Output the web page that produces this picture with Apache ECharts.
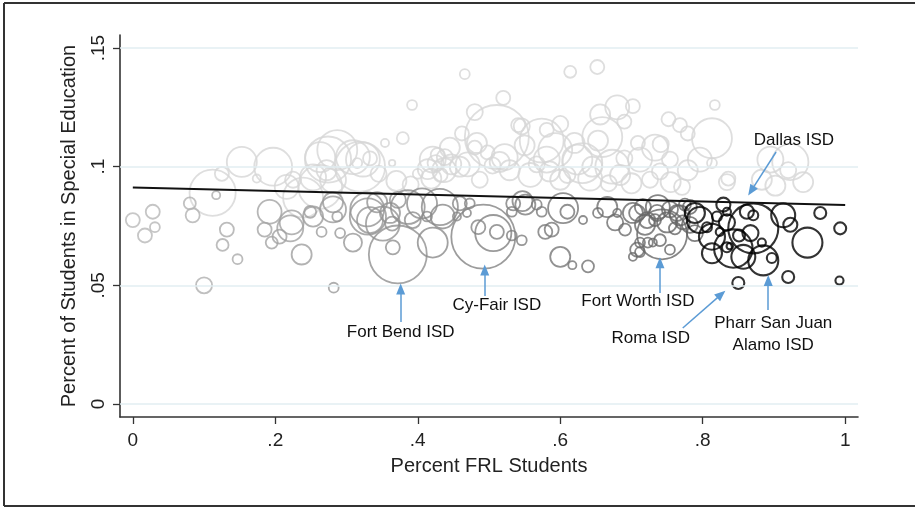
<!DOCTYPE html>
<html>
<head>
<meta charset="utf-8">
<script src="https://cdn.jsdelivr.net/npm/echarts@6/dist/echarts.min.js"></script>
<style>
html,body{margin:0;padding:0;background:#fff;}
#chart{width:915px;height:507px;}
</style>
</head>
<body>
<div id="chart"></div>
<script>
// ---- DATA: [percent FRL, percent special ed, enrollment (thousands)] ----
const aboveLine = [
  [.392,.126,2.4],[.379,.112,3.5],[.354,.110,1.6],[.364,.1015,1],[.153,.102,22],[.197,.100,35],
  [.112,.089,52],[.125,.097,4.8],[.174,.095,1.6],[.274,.103,52],[.263,.0915,47],[.309,.104,28],
  [.319,.100,61],[.333,.1035,4.8],[.225,.0945,6.3],[.239,.087,39],[.281,.0945,16.5],[.421,.103,16.5],
  [.400,.097,2.4],[.466,.139,2.4],[.614,.140,3.5],[.652,.142,4.8],[.520,.129,4.8],[.480,.123,6.3],
  [.511,.1125,100],[.574,.111,47],[.680,.125,14],[.702,.1255,4.8],[.817,.126,2.4],[.813,.112,39],
  [.768,.1175,4.8],[.779,.114,4.8],[.923,.102,32],[.895,.103,16.5],[.883,.0945,9.8],[.941,.0935,9.8],
  [.920,.0985,6.3],[.836,.095,4.8],[.733,.108,16.5],[.673,.100,28],[.631,.1015,39],[.593,.107,28],
  [.522,.104,16.5],[.480,.108,4.8],[.546,.117,6.3],[.462,.114,4.8],[.653,.111,9.8],[.709,.110,4.8],
  [.779,.0985,9.8],[.813,.1015,2.4],[.771,.0915,6.3],[.445,.108,9.8],[.483,.110,9.8],[.541,.1175,4.8],
  [.581,.1155,4.8],[.659,.1125,39],[.581,.103,16.5],[.624,.103,22],[.323,.103,28],[.459,.100,9.8],
  [.414,.099,9.8],[.437,.0985,14],[.438,.104,6.3],[.419,.095,9.8],[.529,.0985,9.8],[.558,.0965,14],
  [.487,.0945,6.3],[.600,.0945,9.8],[.642,.095,14],[.684,.0965,9.8],[.712,.103,14],[.726,.0945,6.3],
  [.796,.103,14],[.754,.103,6.3],[.656,.122,9.8],[.741,.1095,6.3],[.216,.0915,14],[.263,.104,22],
  [.287,.107,39],[.253,.0955,16.5],[.272,.0985,9.8],[.315,.1015,2.4],[.834,.0935,6.3],[.902,.092,9.8],
  [.425,.1015,6.3],[.432,.0965,4.8],[.447,.101,9.8],[.428,.105,4.8],[.505,.1005,6.3],[.515,.102,9.8],
  [.498,.106,4.8],[.567,.101,6.3],[.585,.098,9.8],[.610,.0965,6.3],[.645,.100,9.8],[.668,.093,6.3],
  [.700,.093,9.8],[.690,.1035,6.3],[.755,.0935,9.8],[.740,.098,6.3],[.620,.110,9.8],[.470,.101,14],
  [.550,.109,9.8],[.600,.118,6.3],[.690,.119,4.8],[.752,.120,4.8],[.345,.097,6.3],[.370,.094,9.8],
  [.390,.0925,6.3]
];
const belowLine = [
  [.000,.0775,4.8],[.028,.081,4.8],[.017,.071,4.8],[.031,.0745,2.4],[.080,.0845,3.5],[.084,.0795,4.8],
  [.117,.088,1.6],[.132,.0735,4.8],[.126,.067,3.5],[.147,.061,2.4],[.100,.050,6.3],[.192,.081,14],
  [.185,.0735,4.8],[.195,.068,3.5],[.206,.0705,4.8],[.223,.0765,14],[.221,.074,16.5],[.237,.063,9.8],
  [.249,.081,3.5],[.253,.079,9.8],[.265,.0725,2.4],[.281,.082,16.5],[.287,.079,2.4],[.291,.072,2.4],
  [.309,.068,8],[.282,.049,2.4],[.330,.079,32],[.281,.085,9.8],[.329,.082,28],[.351,.076,28],
  [.361,.0805,9.8],[.365,.066,4.8],[.372,.063,82],[.386,.083,28],[.406,.0845,22],[.421,.068,22],
  [.431,.083,32],[.459,.0845,4.8],[.473,.0845,2.4],[.492,.0705,100],[.485,.0745,4.8],[.511,.0725,4.8],
  [.506,.072,32],[.532,.071,2.4],[.546,.069,2.4],[.532,.081,2.4],[.551,.084,9.8],[.567,.084,2.4],
  [.574,.081,2.4],[.579,.0725,4.8],[.588,.0735,4.8],[.604,.0825,22],[.610,.081,4.8],[.632,.0775,1.6],
  [.653,.0805,2.4],[.600,.062,9.8],[.617,.0585,1.6],[.639,.058,3.5],[.333,.0775,16.5],[.364,.076,4.8],
  [.343,.085,9.8],[.372,.086,6.3],[.393,.0775,6.3],[.413,.079,2.4],[.435,.079,14],[.455,.079,1.6],
  [.469,.0805,1.6],[.534,.0845,4.8],[.547,.0855,9.8],[.666,.083,9.8],[.680,.0805,1.6],[.702,.0805,9.8],
  [.716,.083,6.3],[.708,.065,4.8],[.737,.083,14],[.743,.0715,61],[.677,.0765,6.3],[.691,.0735,3.5],
  [.719,.0755,9.8],[.733,.0775,3.5],[.754,.082,6.3],[.768,.0795,9.8],[.782,.0755,6.3],[.740,.069,3.5],
  [.723,.068,2.4],[.761,.074,3.5],[.775,.084,3.5],[.789,.072,6.3],[.712,.064,2.4],[.708,.0805,6.3],
  [.722,.0775,6.3],[.736,.0805,6.3],[.750,.0765,9.8],[.764,.0805,6.3],[.772,.0765,4.8],[.712,.068,2.4],
  [.754,.065,2.4],[.730,.068,1.6],[.782,.083,4.8],[.702,.062,1.6]
];
const highFRL = [
  [.796,.0775,16.5],[.789,.0805,9.8],[.813,.0705,16.5],[.834,.0765,6.3],[.829,.084,4.8],[.834,.081,1.6],
  [.862,.081,4.8],[.867,.072,6.3],[.871,.074,61],[.843,.0655,36],[.834,.066,2.4],[.838,.0665,1],
  [.883,.068,1.6],[.885,.0605,22],[.897,.0615,2.4],[.913,.0795,14],[.923,.0755,4.8],[.947,.068,22],
  [.965,.0805,3.5],[.993,.074,3.5],[.920,.0535,3.5],[.992,.052,1.6],[.850,.051,3.5],[.813,.0635,9.8],
  [.857,.062,14],[.806,.0745,2.4],[.820,.079,2.4],[.871,.0795,2.4],[.824,.0725,1.6],[.851,.071,3.5]
];
const fitLine = [[0, 0.0912], [1, 0.0838]];
const xTicks = [0, .2, .4, .6, .8, 1];
const yTicks = [0, .05, .1, .15];
const annoLabels = ['Fort Bend ISD', 'Cy-Fair ISD', 'Fort Worth ISD', 'Roma ISD', 'Pharr San Juan\nAlamo ISD', 'Dallas ISD'];
const annoTextPos = [[.376,.030],[.511,.0417],[.709,.0434],[.727,.0278],[.899,.0295],[.928,.1112]];
const annoArrowFrom = [[.376,.0345],[.494,.0455],[.740,.0468],[.772,.032],[.892,.0396],[.903,.1062]];
const annoArrowTo = [[.376,.0485],[.494,.0565],[.740,.0595],[.826,.0462],[.892,.052],[.868,.0898]];

// ---- CHART ----
const fmt = v => (v === 0 ? '0' : String(v).replace(/^0/, ''));
const sizeOf = d => 6.4 * Math.sqrt(d[2]);
function shade(x) {
  const g = Math.round(186 - 112 * Math.min(x, 0.8));
  return 'rgb(' + g + ',' + g + ',' + g + ')';
}
const FONT = 'Liberation Sans, Arial, Helvetica, sans-serif';
const bubble = (name, data, color, z, w) => ({
  name, type: 'scatter', z,
  data: data.map(p => ({ value: p, itemStyle: { borderColor: color(p) } })),
  symbolSize: sizeOf,
  itemStyle: { color: 'rgba(0,0,0,0)', borderWidth: w },
  emphasis: { disabled: true }, silent: true
});

const chart = echarts.init(document.getElementById('chart'), null, { renderer: 'canvas' });
chart.setOption({
  animation: false,
  backgroundColor: '#fff',
  grid: { left: 120, right: 57, top: 35, bottom: 90, containLabel: false },
  xAxis: {
    type: 'value', min: -0.018, max: 1.018,
    name: 'Percent FRL Students', nameLocation: 'middle', nameGap: 39,
    nameTextStyle: { fontFamily: FONT, fontSize: 20, color: '#222' },
    axisLine: { onZero: false, lineStyle: { color: '#333', width: 1.6 } },
    axisTick: { length: 7, customValues: xTicks, lineStyle: { color: '#333', width: 1.3 } },
    axisLabel: { customValues: xTicks, formatter: fmt, margin: 14, fontFamily: FONT, fontSize: 19, color: '#222' },
    splitLine: { show: false }
  },
  yAxis: {
    type: 'value', min: -0.0055, max: 0.1555,
    name: 'Percent of Students in Special Education', nameLocation: 'middle', nameGap: 41,
    nameTextStyle: { fontFamily: FONT, fontSize: 20, color: '#222' },
    axisLine: { onZero: false, lineStyle: { color: '#333', width: 1.6 } },
    axisTick: { length: 7, customValues: yTicks, lineStyle: { color: '#333', width: 1.3 } },
    axisLabel: { customValues: yTicks, formatter: fmt, rotate: 90, margin: 12, fontFamily: FONT, fontSize: 19, color: '#222' },
    splitLine: { show: false }
  },
  graphic: [
    { type: 'line', shape: { x1: 4, y1: 3, x2: 915, y2: 3 }, style: { stroke: '#333', lineWidth: 2 } },
    { type: 'line', shape: { x1: 4, y1: 3, x2: 4, y2: 506 }, style: { stroke: '#333', lineWidth: 2 } },
    { type: 'line', shape: { x1: 4, y1: 506, x2: 915, y2: 506 }, style: { stroke: '#333', lineWidth: 2 } }
  ],
  series: [
    {
      name: 'grid', type: 'scatter', data: [], z: 0, silent: true,
      markLine: {
        silent: true, symbol: ['none', 'none'], label: { show: false },
        lineStyle: { color: '#e2eef2', width: 1.5, type: 'solid' },
        data: yTicks.map(v => ({ yAxis: v }))
      }
    },
    bubble('above', aboveLine, () => '#d6d6d6', 1, 1.8),
    bubble('below', belowLine, p => shade(p[0]), 2, 1.8),
    bubble('high', highFRL, () => '#000', 3, 2.1),
    {
      name: 'fit', type: 'line', data: fitLine, z: 5, symbol: 'none', silent: true,
      lineStyle: { color: '#111', width: 2 }
    },
    {
      name: 'annotations', type: 'scatter', z: 6, silent: true,
      symbolSize: 0,
      itemStyle: { opacity: 1 },
      data: annoTextPos.map((p, i) => ({ value: p, name: annoLabels[i] })),
      label: {
        show: true, position: [0, 0], align: 'center', verticalAlign: 'middle', formatter: '{b}',
        fontFamily: FONT, fontSize: 17, color: '#111', opacity: 1, textBorderWidth: 0,
        lineHeight: 22
      },
      markLine: {
        silent: true, symbol: ['none', 'triangle'], symbolSize: [9, 11],
        label: { show: false },
        lineStyle: { color: '#5b9bd5', width: 1.5, type: 'solid' },
        data: annoArrowFrom.map((p, i) => [{ coord: p }, { coord: annoArrowTo[i] }])
      }
    }
  ]
});
</script>
</body>
</html>
